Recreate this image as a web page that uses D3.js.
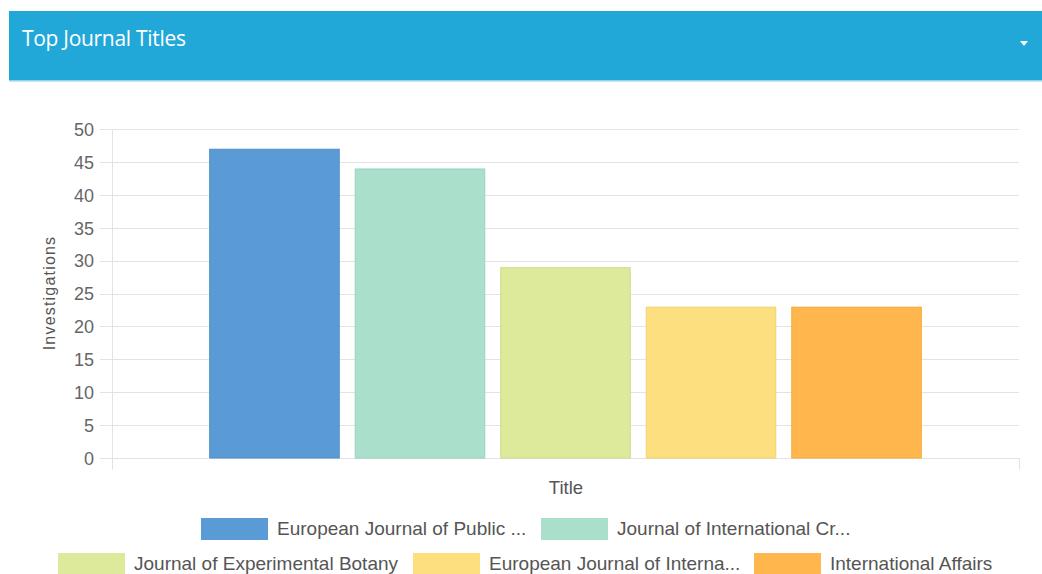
<!DOCTYPE html>
<html><head><meta charset="utf-8">
<script src="https://cdn.jsdelivr.net/npm/d3@7"></script>
<style>
html,body{margin:0;padding:0;background:#fff;overflow:hidden}
svg{display:block}
</style></head>
<body>
<svg id="c" width="1042" height="574"></svg>
<script>
const categories = ["European Journal of Public Health","Journal of International Criminal Justice","Journal of Experimental Botany","European Journal of International Law","International Affairs"];
const legendLabels = ["European Journal of Public ...","Journal of International Cr...","Journal of Experimental Botany","European Journal of Interna...","International Affairs"];
const values = [47, 44, 29, 23, 23];
const colors = ["#5b9bd5","#aadfcc","#dde99b","#fce07f","#ffb64d"];
const strokes = ["#4d8cc8","#97d3bd","#cfdd88","#f2d26c","#f5a83a"];
const yTicks = [0,5,10,15,20,25,30,35,40,45,50];

const svg = d3.select("#c");
// header
svg.append("rect").attr("x",9).attr("y",11).attr("width",1033).attr("height",69).attr("fill","#22a8d8");
svg.append("rect").attr("x",9).attr("y",80).attr("width",1033).attr("height",1.5).attr("fill","#8fd2ea");
svg.append("text").attr("x",22).attr("y",46).attr("fill","#fff")
  .attr("font-family","'Open Sans',sans-serif").attr("font-size",21).attr("letter-spacing","-0.3").text("Top Journal Titles");
svg.append("path").attr("d","M1020,41 L1028,41 L1024,46 Z").attr("fill","#fff");

const L=112,R=1019,T=129,B=458;
const x = d3.scaleBand().domain(categories).range([L,R]).paddingInner(0.103).paddingOuter(0.668);
const y = d3.scaleLinear().domain([0,50]).range([B,T]);

const font="'Liberation Sans',Arial,sans-serif";
// grid
const g = svg.append("g");
g.selectAll("line.grid").data(yTicks).join("line")
  .attr("x1",100).attr("x2",R).attr("y1",d=>Math.round(y(d))+0.5).attr("y2",d=>Math.round(y(d))+0.5)
  .attr("stroke","#e3e3e3").attr("stroke-width",1);
g.append("line").attr("x1",L+0.5).attr("x2",L+0.5).attr("y1",T).attr("y2",470).attr("stroke","#e3e3e3");
g.append("line").attr("x1",R+0.5).attr("x2",R+0.5).attr("y1",B).attr("y2",470).attr("stroke","#e3e3e3");

const yAxis = d3.axisLeft(y).tickValues(yTicks).tickSize(0).tickPadding(0);
const ya = svg.append("g").attr("transform",`translate(94,0)`).call(yAxis);
ya.select(".domain").remove();
ya.selectAll("text").attr("font-family",font).attr("font-size",18).attr("fill","#666").attr("dy","0.35em");

// bars
svg.selectAll("rect.bar").data(values).join("rect").attr("class","bar")
  .attr("x",(d,i)=>x(categories[i])+0.5).attr("width",x.bandwidth()-1)
  .attr("y",d=>y(d)+0.5).attr("height",d=>B-y(d)-0.5)
  .attr("fill",(d,i)=>colors[i]).attr("stroke",(d,i)=>strokes[i]).attr("stroke-width",1);

// axis titles
svg.append("text").attr("transform","translate(55,293) rotate(-90)").attr("text-anchor","middle")
  .attr("font-family",font).attr("font-size",16).attr("fill","#555").attr("letter-spacing","1.2").text("Investigations");
svg.append("text").attr("x",566).attr("y",494).attr("text-anchor","middle")
  .attr("font-family",font).attr("font-size",18.5).attr("fill","#555").text("Title");

// legend
const legendPos = [[201,518],[541,518],[58,553],[413,553],[754,553]];
const lg = svg.append("g");
legendLabels.forEach((t,i)=>{
  const [lx,ly]=legendPos[i];
  lg.append("rect").attr("x",lx).attr("y",ly).attr("width",67).attr("height",22).attr("fill",colors[i]);
  lg.append("text").attr("x",lx+76).attr("y",ly+17).attr("font-family",font).attr("font-size",19)
    .attr("fill","#555").text(t);
});
</script>
</body></html>
